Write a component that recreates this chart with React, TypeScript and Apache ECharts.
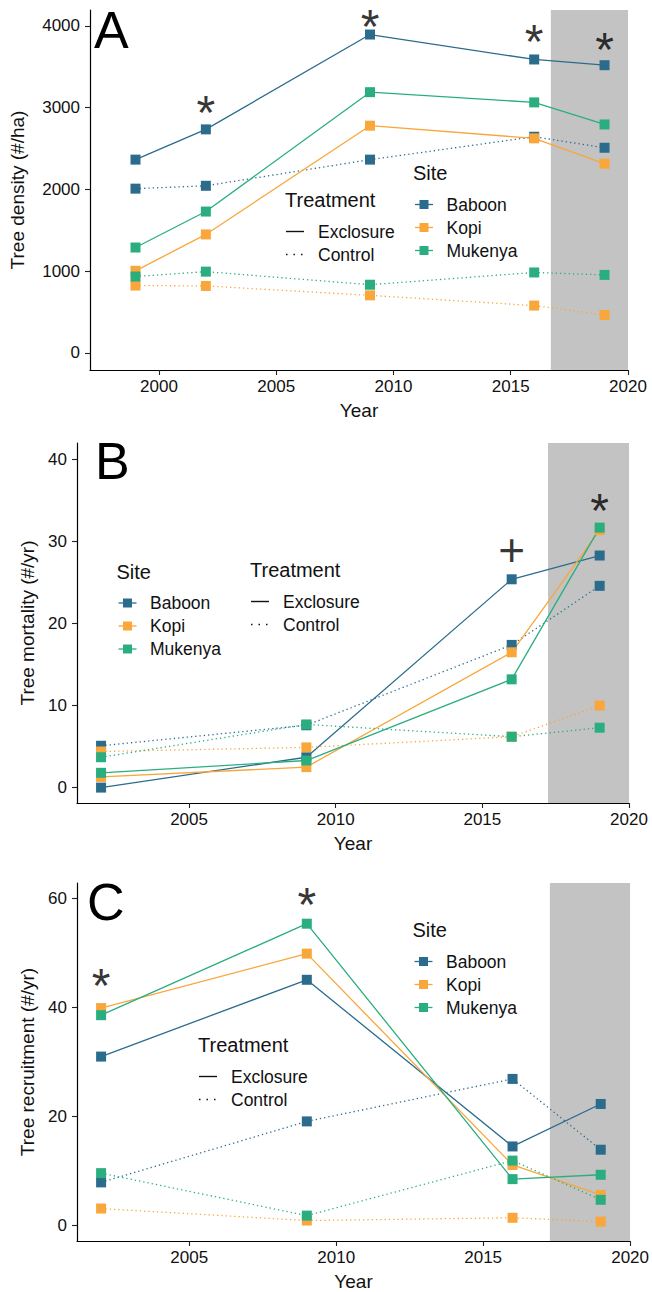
import React, { useEffect, useRef } from "react";
import * as echarts from "echarts";

const FONT = "'Liberation Sans', Arial, Helvetica, sans-serif";
const INK = "#111111";

const sites = ["Baboon", "Kopi", "Mukenya"];
const siteColors = ["#2b6c8d", "#f9a63b", "#2bae7f"];
const treatments = ["Exclosure", "Control"];

// A: tree density (#/ha) per census
const densityYears = [1999, 2002, 2009, 2016, 2019];
const densityBaboonExclosure = [2365, 2735, 3895, 3590, 3520];
const densityBaboonControl = [2010, 2045, 2365, 2645, 2510];
const densityKopiExclosure = [1005, 1450, 2780, 2625, 2315];
const densityKopiControl = [825, 820, 705, 580, 465];
const densityMukenyaExclosure = [1290, 1730, 3190, 3065, 2795];
const densityMukenyaControl = [935, 995, 835, 985, 955];

// B and C: rates for the intervals ending at each later census
const rateYears = [2002, 2009, 2016, 2019];
const mortalityBaboonExclosure = [0, 3.7, 25.4, 28.3];
const mortalityBaboonControl = [5.1, 7.6, 17.4, 24.6];
const mortalityKopiExclosure = [1.3, 2.5, 16.5, 31.4];
const mortalityKopiControl = [4.4, 4.9, 6.2, 10.0];
const mortalityMukenyaExclosure = [1.8, 3.3, 13.2, 31.7];
const mortalityMukenyaControl = [3.7, 7.7, 6.2, 7.3];

const recruitmentBaboonExclosure = [31.0, 45.1, 14.5, 22.3];
const recruitmentBaboonControl = [7.9, 19.1, 26.9, 13.9];
const recruitmentKopiExclosure = [39.9, 49.9, 11.1, 5.6];
const recruitmentKopiControl = [3.1, 0.9, 1.4, 0.7];
const recruitmentMukenyaExclosure = [38.6, 55.4, 8.5, 9.3];
const recruitmentMukenyaControl = [9.6, 1.8, 11.9, 4.7];

// Axis ticks
const densityTicks = [0, 1000, 2000, 3000, 4000];
const mortalityTicks = [0, 10, 20, 30, 40];
const recruitmentTicks = [0, 20, 40, 60];
const densityYearTicks = [2000, 2005, 2010, 2015, 2020];
const rateYearTicks = [2005, 2010, 2015, 2020];

// Significance marks: [year, value, symbol]
const densityMarks: [number, number, string][] = [
  [2002, 3034, "*"],
  [2009, 4090, "*"],
  [2016, 3910, "*"],
  [2019, 3808, "*"],
];
const mortalityMarks: [number, number, string][] = [
  [2016, 29.0, "+"],
  [2019, 34.8, "*"],
];
const recruitmentMarks: [number, number, string][] = [
  [2002, 45.5, "*"],
  [2009, 60.3, "*"],
];

// Start of the shaded, most recent census interval
const shadeStarts = [2016.71, 2017.24, 2017.27];

const panels = [
  {
    letter: "A",
    letterPos: [94, 30],
    yName: "Tree density (#/ha)",
    yNameGap: 63,
    years: densityYears,
    values: [
      [densityBaboonExclosure, densityBaboonControl],
      [densityKopiExclosure, densityKopiControl],
      [densityMukenyaExclosure, densityMukenyaControl],
    ],
    xTicks: densityYearTicks,
    yTicks: densityTicks,
    marks: densityMarks,
    shadeStart: shadeStarts[0],
    xMin: 1997.06,
    xMax: 2020,
    yMin: -208,
    yMax: 4195,
    grid: { left: 77, top: 10, width: 551, height: 360 },
    siteLegend: [413, 173],
    treatmentLegend: [285, 200],
  },
  {
    letter: "B",
    letterPos: [95, 461],
    yName: "Tree mortality (#/yr)",
    yNameGap: 33,
    years: rateYears,
    values: [
      [mortalityBaboonExclosure, mortalityBaboonControl],
      [mortalityKopiExclosure, mortalityKopiControl],
      [mortalityMukenyaExclosure, mortalityMukenyaControl],
    ],
    xTicks: rateYearTicks,
    yTicks: mortalityTicks,
    marks: mortalityMarks,
    shadeStart: shadeStarts[1],
    xMin: 2001.18,
    xMax: 2020,
    yMin: -1.88,
    yMax: 42.02,
    grid: { left: 77, top: 443, width: 552, height: 360 },
    siteLegend: [116.5, 571.5],
    treatmentLegend: [250, 570],
  },
  {
    letter: "C",
    letterPos: [87, 902],
    yName: "Tree recruitment (#/yr)",
    yNameGap: 33,
    years: rateYears,
    values: [
      [recruitmentBaboonExclosure, recruitmentBaboonControl],
      [recruitmentKopiExclosure, recruitmentKopiControl],
      [recruitmentMukenyaExclosure, recruitmentMukenyaControl],
    ],
    xTicks: rateYearTicks,
    yTicks: recruitmentTicks,
    marks: recruitmentMarks,
    shadeStart: shadeStarts[2],
    xMin: 2001.18,
    xMax: 2020,
    yMin: -2.86,
    yMax: 62.87,
    grid: { left: 77, top: 883, width: 554, height: 359 },
    siteLegend: [412.5, 930],
    treatmentLegend: [198, 1045],
  },
];

const DOTTED = [1.3, 3];

function textEl(text: string, x: number, y: number, size: number) {
  return {
    type: "text",
    x,
    y,
    silent: true,
    style: {
      text,
      fontSize: size,
      fontFamily: FONT,
      fill: INK,
      align: "left",
      verticalAlign: "middle",
    },
  };
}

function legendGraphics(p: (typeof panels)[number]) {
  const els: any[] = [];
  const [sx, sy] = p.siteLegend;
  els.push(textEl("Site", sx, sy, 20));
  sites.forEach((name, i) => {
    const y = sy + 31.5 + i * 23;
    els.push({
      type: "line",
      silent: true,
      shape: { x1: sx + 2, y1: y, x2: sx + 20, y2: y },
      style: { stroke: siteColors[i], lineWidth: 1.3 },
    });
    els.push({
      type: "rect",
      silent: true,
      shape: { x: sx + 6.5, y: y - 4.5, width: 9, height: 9 },
      style: { fill: siteColors[i] },
    });
    els.push(textEl(name, sx + 33.5, y, 17.5));
  });
  const [tx, ty] = p.treatmentLegend;
  els.push(textEl("Treatment", tx, ty, 20));
  treatments.forEach((name, i) => {
    const y = ty + 31.5 + i * 23;
    els.push({
      type: "line",
      silent: true,
      shape: { x1: tx + 1, y1: y, x2: tx + 19, y2: y },
      style: {
        stroke: INK,
        lineWidth: 1.4,
        lineDash: i === 0 ? null : [1.5, 6],
      },
    });
    els.push(textEl(name, tx + 33, y, 17.5));
  });
  els.push({
    type: "text",
    x: p.letterPos[0],
    y: p.letterPos[1],
    silent: true,
    style: {
      text: p.letter,
      fontSize: 52,
      fontFamily: FONT,
      fill: "#000",
      align: "left",
      verticalAlign: "middle",
    },
  });
  return els;
}

function buildOption() {
  const grid = panels.map((p) => ({ ...p.grid }));
  const xAxis = panels.map((p, i) => ({
    type: "value",
    gridIndex: i,
    min: p.xMin,
    max: p.xMax,
    name: "Year",
    nameLocation: "middle",
    nameGap: 31,
    nameTextStyle: { fontSize: 19, color: INK, fontFamily: FONT },
    axisLine: { show: true, onZero: false, lineStyle: { color: "#000", width: 1.2 } },
    axisTick: { show: true, length: 5, customValues: p.xTicks, lineStyle: { color: "#222", width: 1.1 } },
    axisLabel: {
      customValues: p.xTicks,
      formatter: (v: number) => String(v),
      fontSize: 17,
      color: INK,
      fontFamily: FONT,
      margin: 8,
    },
    splitLine: { show: false },
  }));
  const yAxis = panels.map((p, i) => ({
    type: "value",
    gridIndex: i,
    min: p.yMin,
    max: p.yMax,
    name: p.yName,
    nameLocation: "middle",
    nameGap: p.yNameGap,
    nameTextStyle: { fontSize: 19, color: INK, fontFamily: FONT },
    axisLine: { show: true, onZero: false, lineStyle: { color: "#000", width: 1.2 } },
    axisTick: { show: true, length: 5, customValues: p.yTicks, lineStyle: { color: "#222", width: 1.1 } },
    axisLabel: {
      customValues: p.yTicks,
      formatter: (v: number) => String(v),
      fontSize: 17,
      color: INK,
      fontFamily: FONT,
      margin: 10,
    },
    splitLine: { show: false },
  }));

  const series: any[] = [];
  panels.forEach((p, pi) => {
    // shaded interval behind everything
    series.push({
      type: "line",
      xAxisIndex: pi,
      yAxisIndex: pi,
      data: [],
      silent: true,
      z: 1,
      markArea: {
        silent: true,
        itemStyle: { color: "#c3c3c3" },
        data: [[{ xAxis: p.shadeStart }, { xAxis: p.xMax }]],
      },
    });
    // connecting lines
    sites.forEach((site, si) => {
      [1, 0].forEach((ti) => {
        series.push({
          type: "line",
          name: `${site} ${treatments[ti]}`,
          xAxisIndex: pi,
          yAxisIndex: pi,
          data: p.years.map((yr, k) => [yr, p.values[si][ti][k]]),
          showSymbol: false,
          symbol: "none",
          silent: true,
          z: 2,
          lineStyle: {
            color: siteColors[si],
            width: 1.3,
            type: ti === 0 ? "solid" : DOTTED,
          },
        });
      });
    });
    // points on top of all lines
    sites.forEach((site, si) => {
      [1, 0].forEach((ti) => {
        series.push({
          type: "scatter",
          name: `${site} ${treatments[ti]} points`,
          xAxisIndex: pi,
          yAxisIndex: pi,
          data: p.years.map((yr, k) => [yr, p.values[si][ti][k]]),
          symbol: "rect",
          symbolSize: 10,
          silent: true,
          z: 3,
          itemStyle: { color: siteColors[si], opacity: 1 },
        });
      });
    });
    // significance marks
    series.push({
      type: "scatter",
      xAxisIndex: pi,
      yAxisIndex: pi,
      symbolSize: 1,
      silent: true,
      clip: false,
      z: 4,
      itemStyle: { color: "rgba(0,0,0,0)" },
      data: p.marks.map((m) => ({
        value: [m[0], m[1]],
        label: {
          show: true,
          position: "inside",
          formatter: m[2],
          fontSize: m[2] === "*" ? 48 : 46,
          lineHeight: m[2] === "*" ? 26 : 46,
          fontFamily: FONT,
          color: "#000",
          offset: m[2] === "*" ? [0, 8] : [0, 0],
        },
      })),
    });
  });

  return {
    animation: false,
    backgroundColor: "#ffffff",
    grid,
    xAxis,
    yAxis,
    series,
    graphic: { elements: panels.flatMap((p) => legendGraphics(p)) },
  };
}

export default function App() {
  const ref = useRef<HTMLDivElement>(null);
  useEffect(() => {
    if (!ref.current) return;
    const chart = echarts.init(ref.current, undefined, { renderer: "svg" });
    chart.setOption(buildOption() as any);
    return () => chart.dispose();
  }, []);
  return (
    <div
      ref={ref}
      style={{ position: "absolute", left: 0, top: 0, width: 652, height: 1292, background: "#fff" }}
    />
  );
}
